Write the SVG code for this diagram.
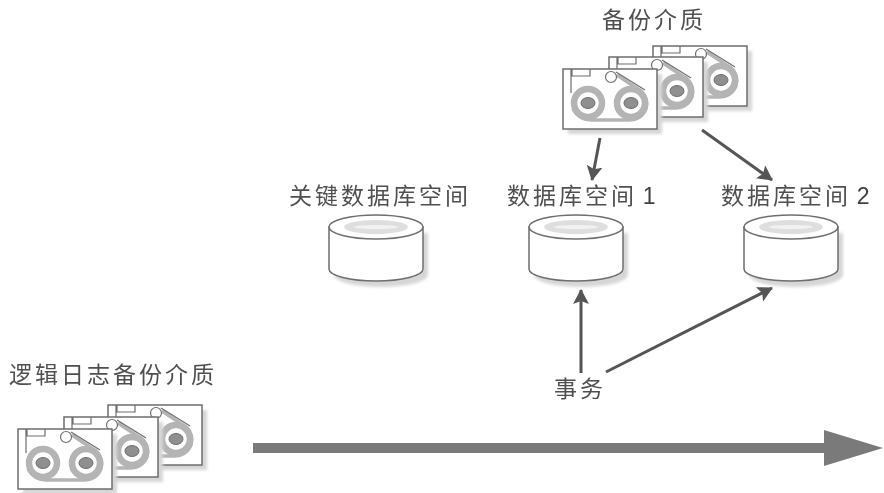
<svg xmlns="http://www.w3.org/2000/svg" xmlns:xlink="http://www.w3.org/1999/xlink" width="884" height="493" viewBox="0 0 884 493">
<style>
text{font-family:"Noto Sans CJK SC","Liberation Sans",sans-serif;font-size:23px;fill:#505050;letter-spacing:3px;font-weight:400}
.tight{word-spacing:-2.5px}
.num{font-family:"Liberation Sans",sans-serif;letter-spacing:0;fill:#404040}
.body{fill:#fff;stroke:#6e6e6e;stroke-width:1.5}
.shadow{fill:#d6d6d6}
.ring{fill:#fff;stroke:#b4b4b4;stroke-width:6.5}
.hub{fill:#8f8f8f;stroke:#707070;stroke-width:1}
.tape{fill:none;stroke:#b4b4b4;stroke-width:3.5}
.thin{fill:none;stroke:#6e6e6e;stroke-width:1.2}
.conn{fill:none;stroke:#555;stroke-width:3;marker-end:url(#head)}
</style>
<defs>
<filter id="soft" x="-30%" y="-30%" width="160%" height="160%"><feGaussianBlur stdDeviation="1.8"/></filter>
<filter id="aa" x="-5%" y="-5%" width="110%" height="110%"><feGaussianBlur stdDeviation="0.5"/></filter>
<marker id="head" markerUnits="userSpaceOnUse" markerWidth="18" markerHeight="18" refX="14" refY="8" orient="auto">
<path d="M0 0L15 8L0 16L3 8Z" fill="#555"/>
</marker>
<g id="tape">
<rect class="shadow" x="5" y="5" width="94" height="60" filter="url(#soft)"/>
<rect class="body" width="94" height="60"/>
<path class="thin" d="M9 0V7H27V0M8 0V24"/>
<path class="tape" d="M10 40Q16 51 28 51H66Q78 51 83 40Q86 30 78 22L54 6"/>
<path class="thin" d="M53 3L82 21"/>
<circle class="ring" cx="25" cy="34" r="14"/>
<circle class="ring" cx="68" cy="34" r="14"/>
<ellipse class="hub" cx="25" cy="34" rx="7" ry="5.5"/>
<ellipse class="hub" cx="68" cy="34" rx="7" ry="5.5"/>
<circle cx="48" cy="8" r="5.5" fill="#fff" stroke="#6e6e6e" stroke-width="1.2"/>
</g>
<g id="cyl">
<path d="M4 17V59A47 12 0 0 0 98 59V17Z" class="shadow" transform="translate(1 2)" filter="url(#soft)"/>
<path d="M0 13V55A47 12 0 0 0 94 55V13Z" class="body"/>
<ellipse class="body" cx="47" cy="13" rx="47" ry="12"/>
<ellipse cx="47" cy="13" rx="32" ry="7" fill="#dedede"/>
<ellipse cx="47" cy="13" rx="22" ry="2" fill="#f2f2f2"/>
</g>
</defs>
<g filter="url(#aa)">
<g id="connectors">
<path class="conn" d="M600 138L592 180"/>
<path class="conn" d="M702 130L772 180"/>
<path class="conn" d="M581 373V290"/>
<path class="conn" d="M606 372L772 288"/>
<path id="timeline" d="M253 443H824V430L883 448L824 466V453H253Z" fill="#7a7a7a"/>
</g>
<g id="backup-media">
<use xlink:href="#tape" href="#tape" x="653" y="46"/>
<use xlink:href="#tape" href="#tape" x="609" y="57"/>
<use xlink:href="#tape" href="#tape" x="563" y="69"/>
<text x="602" y="28">备份介质</text>
</g>
<g id="log-backup-media">
<use xlink:href="#tape" href="#tape" x="108" y="405"/>
<use xlink:href="#tape" href="#tape" x="64" y="417"/>
<use xlink:href="#tape" href="#tape" x="18" y="429"/>
<text x="9" y="383">逻辑日志备份介质</text>
</g>
<g id="critical-dbspace">
<use xlink:href="#cyl" href="#cyl" x="329" y="214"/>
<text x="289" y="204">关键数据库空间</text>
</g>
<g id="dbspace-1">
<use xlink:href="#cyl" href="#cyl" x="529" y="214"/>
<text class="tight" x="507" y="204">数据库空间 <tspan class="num">1</tspan></text>
</g>
<g id="dbspace-2">
<use xlink:href="#cyl" href="#cyl" x="744" y="214"/>
<text class="tight" x="721" y="204">数据库空间 <tspan class="num">2</tspan></text>
</g>
<g id="transaction">
<text x="554" y="397">事务</text>
</g>
</g>
</svg>
